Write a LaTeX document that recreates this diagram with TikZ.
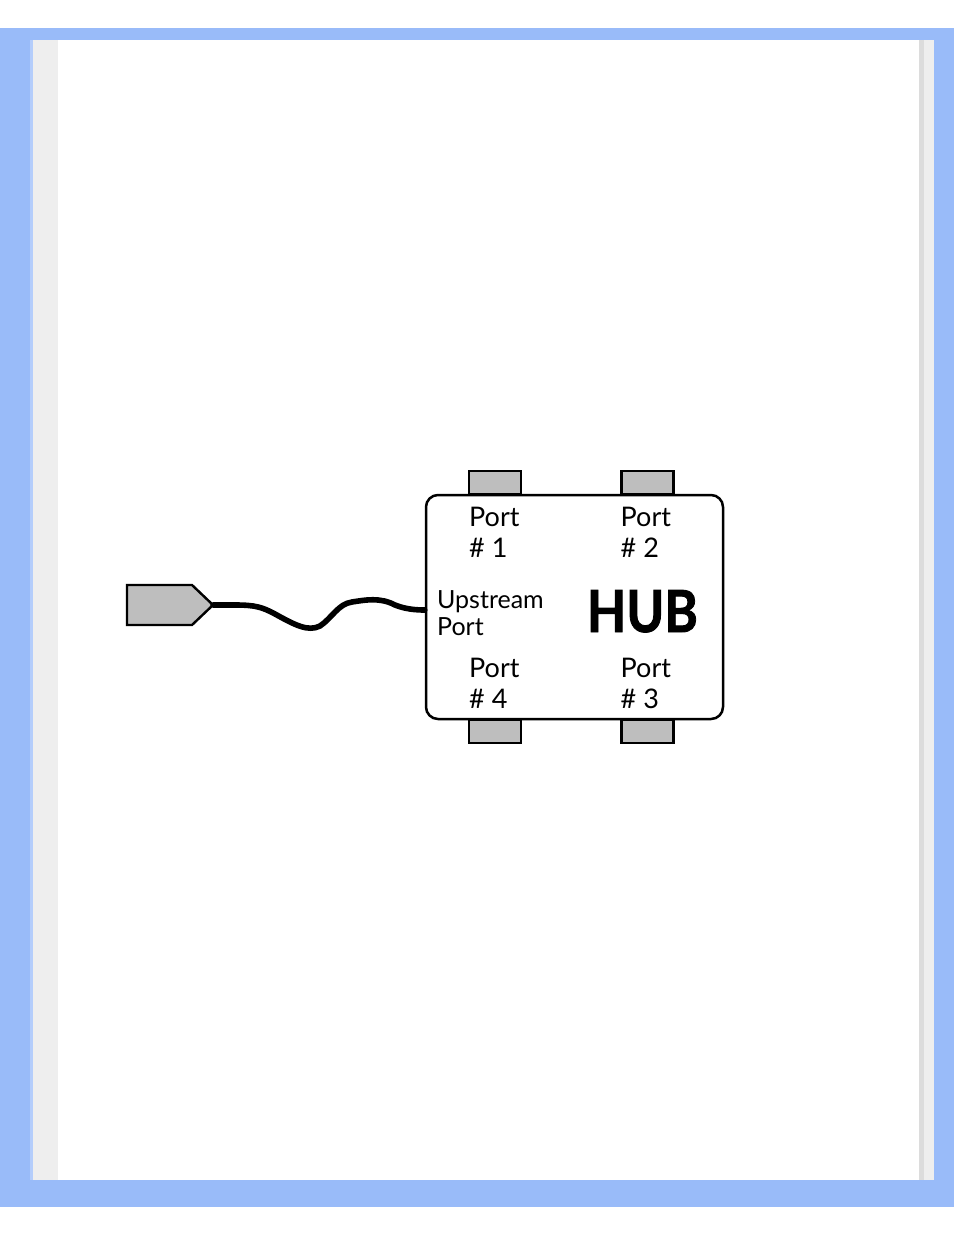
\documentclass[tikz,border=0pt]{standalone}
\usepackage{fontspec}
\setmainfont{Lato}
\newfontfamily\hubfont[BoldFeatures={FakeBold=1.6}]{Lato}
\usetikzlibrary{positioning}
\definecolor{frameblue}{HTML}{99BBF9}
\definecolor{stripblue}{HTML}{B4CDFB}
\definecolor{stripgray}{HTML}{EEEEEE}
\definecolor{edgegray}{HTML}{DCDCDC}
\definecolor{portgray}{HTML}{BEBEBE}

\begin{document}
\begin{tikzpicture}[x=0.5pt,y=-0.5pt,
    portbox/.style={draw=black,fill=portgray,line width=1.2pt,minimum width=26pt,minimum height=11.5pt,inner sep=0pt},
    portlabel/.style={align=left,inner sep=0pt,font=\fontsize{13.5}{15.5}\selectfont},
  ]
  % page frame
  \fill[white] (0,0) rectangle (954,1235);
  \fill[frameblue] (0,28) rectangle (954,1207);
  \fill[stripblue] (30,40) rectangle (33,1180);
  \fill[stripgray] (33,40) rectangle (58,1180);
  \fill[edgegray] (919,40) rectangle (924,1180);
  \fill[stripgray] (924,40) rectangle (934,1180);
  \fill[white] (58,40) rectangle (919,1180);

  % hub and its ports
  \node[draw,fill=white,rounded corners=6pt,line width=1.25pt,minimum width=148.5pt,minimum height=112pt] (hub) at (574.5,607) {};
  \node[portbox,above=-0.6pt of hub.north,xshift=-39.75pt] (port1) {};
  \node[portbox,above=-0.6pt of hub.north,xshift=36.5pt] (port2) {};
  \node[portbox,below=-0.6pt of hub.south,xshift=36.5pt] (port3) {};
  \node[portbox,below=-0.6pt of hub.south,xshift=-39.75pt] (port4) {};

  \node[portlabel,below right=6pt and 0.5pt of port1.south west] (lab1) {Port\\\# 1};
  \node[portlabel,below right=6pt and 0pt of port2.south west] (lab2) {Port\\\# 2};
  \node[portlabel,above right=5pt and 0pt of port3.north west] (lab3) {Port\\\# 3};
  \node[portlabel,above right=5pt and 0.5pt of port4.north west] (lab4) {Port\\\# 4};

  \node[align=left,inner sep=0pt,font=\fontsize{12.5}{13.5}\selectfont,right=6pt of hub.west,yshift=-3.25pt] (upstream) {Upstream\\Port};
  \node[inner sep=0pt,anchor=base east,font=\fontsize{29}{30}\selectfont\hubfont\bfseries] (hubname) at ([xshift=-13pt,yshift=-12.5pt]hub.east) {\scalebox{0.88}[1]{HUB}};

  % plug and cable
  \draw[fill=portgray,line width=1.2pt] (127,585) -- (192,585) -- (213,605) -- (192,625) -- (127,625) -- cycle;
  \coordinate (plugtip) at (213,605);
  \draw[line width=2.8pt,line cap=round] (plugtip) -- (235,605)
    .. controls (255,605) and (262,607) .. (275,614)
    .. controls (295,625) and (308,632) .. (320,626)
    .. controls (332,618) and (338,604) .. (352,602)
    .. controls (365,600) and (380,597) .. (395,605)
    .. controls (405,609) and (415,610) .. ([yshift=-1.5pt]hub.west);
\end{tikzpicture}
\end{document}
